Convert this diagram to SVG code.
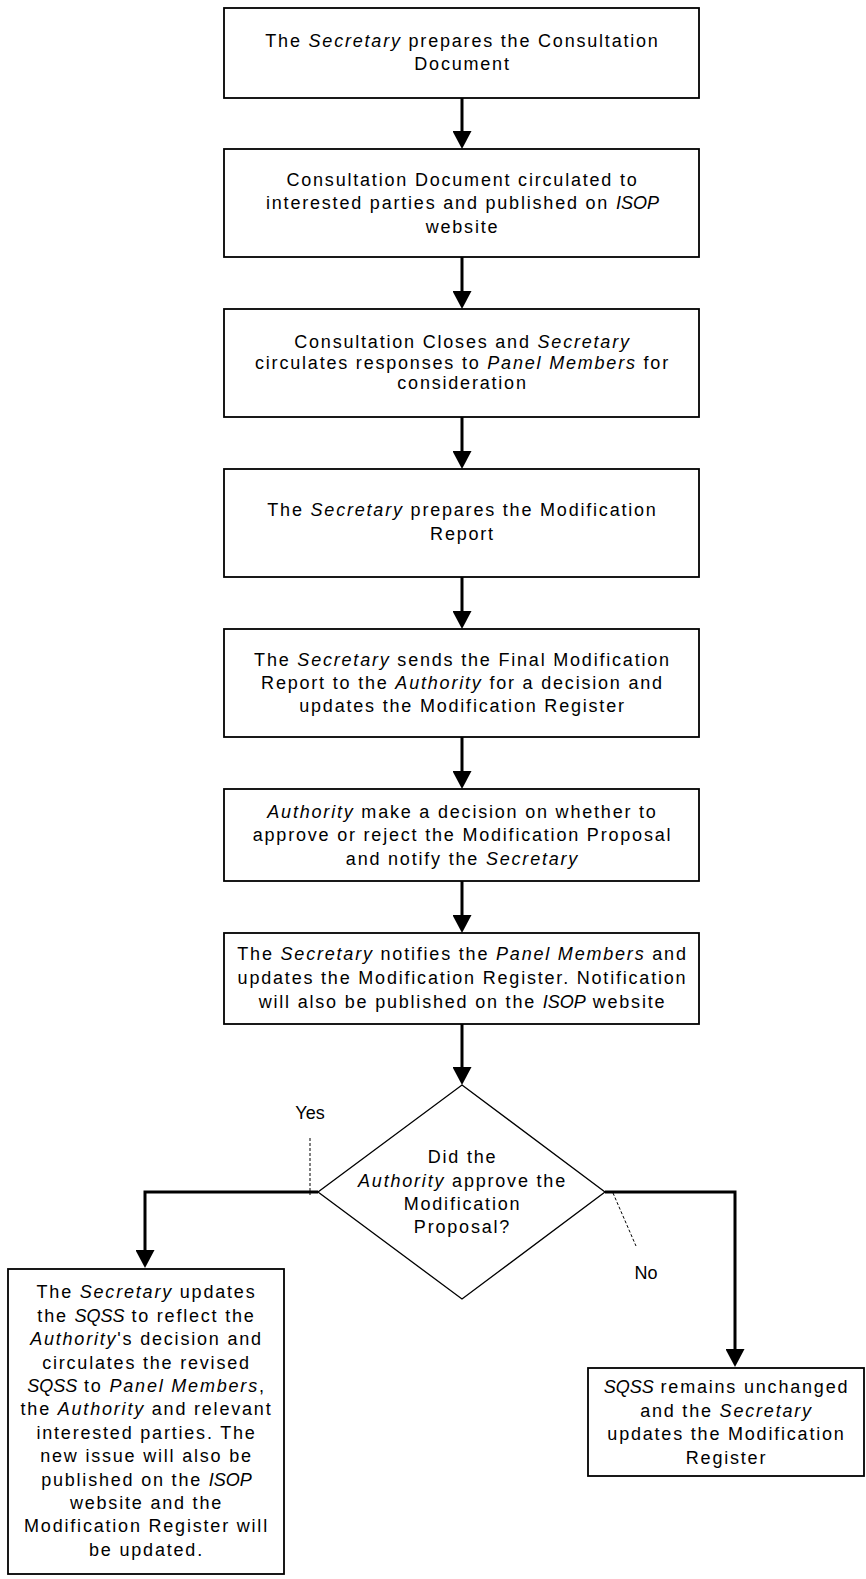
<svg xmlns="http://www.w3.org/2000/svg" width="866" height="1579" viewBox="0 0 866 1579">
  <style>
    .box { fill: #ffffff; stroke: #000000; stroke-width: 1.8; }
    .dia { fill: #ffffff; stroke: #000000; stroke-width: 1.3; }
    .flow { fill: none; stroke: #000000; stroke-width: 3; }
    .tick { fill: none; stroke: #000000; stroke-width: 1; stroke-dasharray: 3 2; }
    .t { font-family: "Liberation Sans", Arial, sans-serif; font-size: 18px; fill: #000000; letter-spacing: 1.8px; text-anchor: middle; }
    .lbl { font-family: "Liberation Sans", Arial, sans-serif; font-size: 18px; fill: #000000; text-anchor: middle; }
    .i { font-style: italic; }
    .q { font-style: italic; letter-spacing: 0; }
  </style>
  <defs>
    <marker id="head" markerUnits="userSpaceOnUse" markerWidth="19" markerHeight="19" viewBox="0 0 19 19" refX="8" refY="9.5" orient="auto">
      <path d="M0,0 L18,9.5 L0,19 Z" fill="#000000"/>
    </marker>
  </defs>

  <rect width="866" height="1579" fill="#ffffff"/>

  <!-- connectors -->
  <g id="connectors">
    <path class="flow" d="M462,98 V139" marker-end="url(#head)"/>
    <path class="flow" d="M462,257 V299" marker-end="url(#head)"/>
    <path class="flow" d="M462,417 V459" marker-end="url(#head)"/>
    <path class="flow" d="M462,577 V619" marker-end="url(#head)"/>
    <path class="flow" d="M462,737 V779" marker-end="url(#head)"/>
    <path class="flow" d="M462,881 V923" marker-end="url(#head)"/>
    <path class="flow" d="M462,1024 V1075" marker-end="url(#head)"/>
    <path class="flow" d="M318,1192 H145 V1258" marker-end="url(#head)"/>
    <path class="flow" d="M605,1192 H735 V1357" marker-end="url(#head)"/>
    <line class="tick" x1="310" y1="1138" x2="310" y2="1195"/>
    <line class="tick" x1="613" y1="1193" x2="636" y2="1246"/>
    <text class="lbl" x="310" y="1119">Yes</text>
    <text class="lbl" x="646" y="1279">No</text>
  </g>

  <g id="prepare-consultation">
    <rect class="box" x="224" y="8" width="475" height="90"/>
    <text class="t" x="462.5" y="46.5">The <tspan class="i">Secretary</tspan> prepares the Consultation</text>
    <text class="t" x="462.5" y="70">Document</text>
  </g>

  <g id="circulate-consultation">
    <rect class="box" x="224" y="149" width="475" height="108"/>
    <text class="t" x="462.5" y="186">Consultation Document circulated to</text>
    <text class="t" x="462.5" y="209">interested parties and published on <tspan class="q">ISOP</tspan></text>
    <text class="t" x="462.5" y="232.5">website</text>
  </g>

  <g id="consultation-closes">
    <rect class="box" x="224" y="309" width="475" height="108"/>
    <text class="t" x="462.5" y="348">Consultation Closes and <tspan class="i">Secretary</tspan></text>
    <text class="t" x="462.5" y="368.5">circulates responses to <tspan class="i">Panel Members</tspan> for</text>
    <text class="t" x="462.5" y="389">consideration</text>
  </g>

  <g id="prepare-report">
    <rect class="box" x="224" y="469" width="475" height="108"/>
    <text class="t" x="462.5" y="516">The <tspan class="i">Secretary</tspan> prepares the Modification</text>
    <text class="t" x="462.5" y="540">Report</text>
  </g>

  <g id="send-report">
    <rect class="box" x="224" y="629" width="475" height="108"/>
    <text class="t" x="462.5" y="665.5">The <tspan class="i">Secretary</tspan> sends the Final Modification</text>
    <text class="t" x="462.5" y="689">Report to the <tspan class="i">Authority</tspan> for a decision and</text>
    <text class="t" x="462.5" y="712">updates the Modification Register</text>
  </g>

  <g id="authority-decision">
    <rect class="box" x="224" y="789" width="475" height="92"/>
    <text class="t" x="462.5" y="818"><tspan class="i">Authority</tspan> make a decision on whether to</text>
    <text class="t" x="462.5" y="841">approve or reject the Modification Proposal</text>
    <text class="t" x="462.5" y="864.5">and notify the <tspan class="i">Secretary</tspan></text>
  </g>

  <g id="notify-panel">
    <rect class="box" x="224" y="933" width="475" height="91"/>
    <text class="t" x="462.5" y="960">The <tspan class="i">Secretary</tspan> notifies the <tspan class="i">Panel Members</tspan> and</text>
    <text class="t" x="462.5" y="984">updates the Modification Register. Notification</text>
    <text class="t" x="462.5" y="1008">will also be published on the <tspan class="q">ISOP</tspan> website</text>
  </g>

  <g id="approved-decision">
    <polygon class="dia" points="462,1085 605,1192 462,1299 318,1192"/>
    <text class="t" x="462.5" y="1163">Did the</text>
    <text class="t" x="462.5" y="1186.5"><tspan class="i">Authority</tspan> approve the</text>
    <text class="t" x="462.5" y="1209.5">Modification</text>
    <text class="t" x="462.5" y="1233">Proposal?</text>
  </g>

  <g id="update-sqss">
    <rect class="box" x="8" y="1269" width="276" height="305"/>
    <text class="t" x="146.5" y="1298.3">The <tspan class="i">Secretary</tspan> updates</text>
    <text class="t" x="146.5" y="1321.7">the <tspan class="q">SQSS</tspan> to reflect the</text>
    <text class="t" x="146.5" y="1345.1"><tspan class="i">Authority</tspan>'s decision and</text>
    <text class="t" x="146.5" y="1368.5">circulates the revised</text>
    <text class="t" x="146.5" y="1391.9"><tspan class="q">SQSS</tspan> to <tspan class="i">Panel Members</tspan>,</text>
    <text class="t" x="146.5" y="1415.3">the <tspan class="i">Authority</tspan> and relevant</text>
    <text class="t" x="146.5" y="1438.7">interested parties. The</text>
    <text class="t" x="146.5" y="1462.1">new issue will also be</text>
    <text class="t" x="146.5" y="1485.5">published on the <tspan class="q">ISOP</tspan></text>
    <text class="t" x="146.5" y="1508.9">website and the</text>
    <text class="t" x="146.5" y="1532.3">Modification Register will</text>
    <text class="t" x="146.5" y="1555.7">be updated.</text>
  </g>

  <g id="sqss-unchanged">
    <rect class="box" x="588" y="1368" width="276" height="108"/>
    <text class="t" x="726.5" y="1393"><tspan class="q">SQSS</tspan> remains unchanged</text>
    <text class="t" x="726.5" y="1416.5">and the <tspan class="i">Secretary</tspan></text>
    <text class="t" x="726.5" y="1440">updates the Modification</text>
    <text class="t" x="726.5" y="1463.5">Register</text>
  </g>
</svg>
